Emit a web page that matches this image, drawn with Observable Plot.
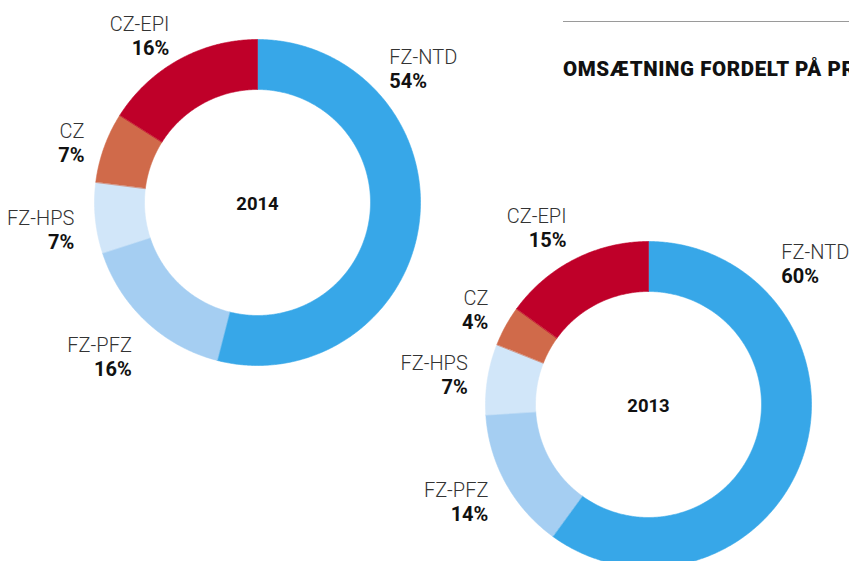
<!DOCTYPE html>
<html>
<head>
<meta charset="utf-8">
<script src="https://cdn.jsdelivr.net/npm/d3@7"></script>
<script src="https://cdn.jsdelivr.net/npm/@observablehq/plot@0.6"></script>
<style>
  html, body { margin: 0; padding: 0; background: #fff; overflow: hidden; }
  #wrap { position: relative; width: 849px; height: 561px; overflow: hidden; }
  #rule { position: absolute; left: 563px; top: 21px; width: 300px; height: 0; border-top: 1.6px solid #9a9a9a; }
  #title { position: absolute; left: 563px; top: 57px; white-space: nowrap;
           font-family: Roboto, sans-serif; font-weight: 900; font-size: 20.5px; color: #111; letter-spacing: 0.6px; }
  #chart { position: absolute; left: 0; top: 0; }
</style>
</head>
<body>
<div id="wrap">
  <div id="chart"></div>
  <div id="rule"></div>
  <div id="title">OMSÆTNING FORDELT PÅ PR</div>
</div>
<script>
// ---- data ----
const years = ["2014", "2013"];
const categories = ["FZ-NTD", "FZ-PFZ", "FZ-HPS", "CZ", "CZ-EPI"];
const values2014 = [54, 16, 7, 7, 16];
const values2013 = [60, 14, 7, 4, 15];
const palette = ["#37a7e8", "#a5cef2", "#d1e6f9", "#d06a4a", "#bf0029"];

// ---- layout ----
const W = 849, H = 561;
const layout = {
  "2014": {cx: 257, cy: 202, labelDx: 1, labelDy: 9},
  "2013": {cx: 648, cy: 404, labelDx: 2, labelDy: 2}
};
const rOuter = 163, rInner = 113;
const labelRx = 185, labelRy = 200;
const seriesByYear = {"2014": values2014, "2013": values2013};

const ringPts = [];
const labels = [];
const centers = [];
for (const year of years) {
  const {cx, cy, labelDx, labelDy} = layout[year];
  const vals = seriesByYear[year];
  const total = d3.sum(vals);
  centers.push({year, x: cx, y: cy + 2});
  let acc = 0;
  vals.forEach((v, i) => {
    const a0 = acc / total * 2 * Math.PI;
    acc += v;
    const a1 = acc / total * 2 * Math.PI;
    const key = year + "-" + categories[i];
    const n = Math.max(2, Math.ceil((a1 - a0) / (Math.PI / 360)));
    for (let k = 0; k <= n; k++) {
      const a = a0 + (a1 - a0) * k / n;
      ringPts.push({key, category: categories[i], x: cx + rOuter * Math.sin(a), y: cy - rOuter * Math.cos(a)});
    }
    for (let k = n; k >= 0; k--) {
      const a = a0 + (a1 - a0) * k / n;
      ringPts.push({key, category: categories[i], x: cx + rInner * Math.sin(a), y: cy - rInner * Math.cos(a)});
    }
    // label anchor: slice middle, large slice labelled at upper right
    const am = (v / total > 0.5) ? Math.PI / 4 : (a0 + a1) / 2;
    const lx = cx + labelRx * Math.sin(am) + labelDx;
    const ly = cy - labelRy * Math.cos(am) + labelDy;
    labels.push({name: categories[i], pct: v + "%", x: lx, y: ly, side: Math.sin(am) >= 0 ? "start" : "end"});
  });
}
const leftLabels = labels.filter(d => d.side === "end");
const rightLabels = labels.filter(d => d.side === "start");

const font = "Roboto, sans-serif";
const nameStyle = {fontFamily: font, fontSize: 20, fontWeight: 300, fill: "#333"};
const pctStyle = {fontFamily: font, fontSize: 20, fontWeight: 700, fill: "#111"};

const chart = Plot.plot({
  width: W, height: H,
  margin: 0,
  x: {domain: [0, W], range: [0, W], axis: null},
  y: {domain: [0, H], range: [0, H], axis: null},
  color: {domain: categories, range: palette},
  style: {background: "transparent"},
  marks: [
    Plot.line(ringPts, {x: "x", y: "y", z: "key", fill: "category", stroke: "category", strokeWidth: 0.6, curve: "linear-closed"}),
    Plot.text(leftLabels, {x: "x", y: d => d.y - 12, text: "name", textAnchor: "end", ...nameStyle}),
    Plot.text(leftLabels, {x: "x", y: d => d.y + 12, text: "pct", textAnchor: "end", ...pctStyle}),
    Plot.text(rightLabels, {x: "x", y: d => d.y - 12, text: "name", textAnchor: "start", ...nameStyle}),
    Plot.text(rightLabels, {x: "x", y: d => d.y + 12, text: "pct", textAnchor: "start", ...pctStyle}),
    Plot.text(centers, {x: "x", y: "y", text: "year", fontFamily: font, fontSize: 18.5, fontWeight: 700, fill: "#111"})
  ]
});
document.getElementById("chart").appendChild(chart);
</script>
</body>
</html>
